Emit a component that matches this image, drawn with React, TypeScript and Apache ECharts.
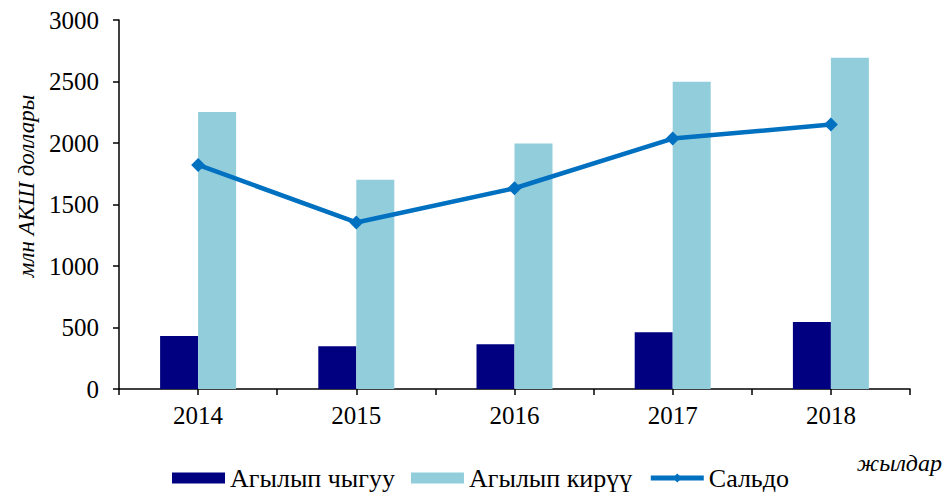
import React, { useEffect, useRef } from "react";
import * as echarts from "echarts";

const years = ["2014", "2015", "2016", "2017", "2018"];
const outflow = [430, 348, 364, 462, 544];
const inflow = [2252, 1702, 1996, 2498, 2694];
const saldo = [1822, 1354, 1632, 2036, 2150];
const yTicks = { min: 0, max: 3000, interval: 500 };

const FONT = "Liberation Serif";

export default function App() {
  const ref = useRef<HTMLDivElement>(null);
  useEffect(() => {
    if (!ref.current) return;
    const chart = echarts.init(ref.current, undefined, { renderer: "svg" });
    chart.setOption({
      animation: false,
      backgroundColor: "#ffffff",
      textStyle: { fontFamily: FONT },
      grid: { left: 119, top: 20, width: 791, height: 369, containLabel: false },
      legend: {
        top: 460,
        left: 167,
        itemWidth: 53,
        itemHeight: 11,
        itemGap: 16,
        textStyle: { fontFamily: FONT, fontSize: 26, color: "#000" },
        data: [
          { name: "Агылып чыгуу", icon: "rect" },
          { name: "Агылып кирүү", icon: "rect" },
          { name: "Сальдо", lineStyle: { width: 5, color: "#0070C0" } },
        ],
      },
      xAxis: [
        {
          type: "category",
          data: years,
          position: "bottom",
          axisLine: { show: true, lineStyle: { color: "#000", width: 1.5 } },
          axisTick: { show: true, length: 6, lineStyle: { color: "#000", width: 1.5 } },
          axisLabel: { fontFamily: FONT, fontSize: 25, color: "#000", margin: 14 },
        },
        {
          type: "category",
          data: years,
          position: "bottom",
          axisLine: { show: false },
          axisTick: { show: true, alignWithLabel: true, length: 6, lineStyle: { color: "#000", width: 1.5 } },
          axisLabel: { show: false },
        },
      ],
      yAxis: {
        type: "value",
        min: yTicks.min,
        max: yTicks.max,
        interval: yTicks.interval,
        axisLine: { show: true, lineStyle: { color: "#000", width: 1.5 } },
        axisTick: { show: true, length: 6, lineStyle: { color: "#000", width: 1.5 } },
        splitLine: { show: false },
        axisLabel: {
          fontFamily: FONT,
          fontSize: 25,
          color: "#000",
          margin: 20,
          formatter: (v: number) => String(v),
        },
      },
      graphic: [
        {
          type: "text",
          x: 26,
          y: 186,
          rotation: Math.PI / 2,
          style: {
            text: "млн АКШ доллары",
            fontFamily: FONT,
            fontSize: 23,
            fontStyle: "italic",
            fill: "#000",
            align: "center",
            verticalAlign: "middle",
          },
        },
        {
          type: "text",
          x: 942,
          y: 463,
          style: {
            text: "жылдар",
            fontFamily: FONT,
            fontSize: 24,
            fontStyle: "italic",
            fill: "#000",
            align: "right",
            verticalAlign: "middle",
          },
        },
      ],
      series: [
        {
          name: "Агылып чыгуу",
          type: "bar",
          data: outflow,
          barWidth: 38,
          barGap: "0%",
          itemStyle: { color: "#000080" },
        },
        {
          name: "Агылып кирүү",
          type: "bar",
          data: inflow,
          barWidth: 38,
          barGap: "0%",
          itemStyle: { color: "#92CDDC" },
        },
        {
          name: "Сальдо",
          type: "line",
          data: saldo,
          symbol: "diamond",
          symbolSize: [14, 14],
          lineStyle: { color: "#0070C0", width: 4.5 },
          itemStyle: { color: "#0070C0" },
          z: 5,
        },
      ],
    });
    return () => chart.dispose();
  }, []);
  return (
    <div
      ref={ref}
      style={{ position: "absolute", left: 0, top: 0, width: 944, height: 494 }}
    />
  );
}
